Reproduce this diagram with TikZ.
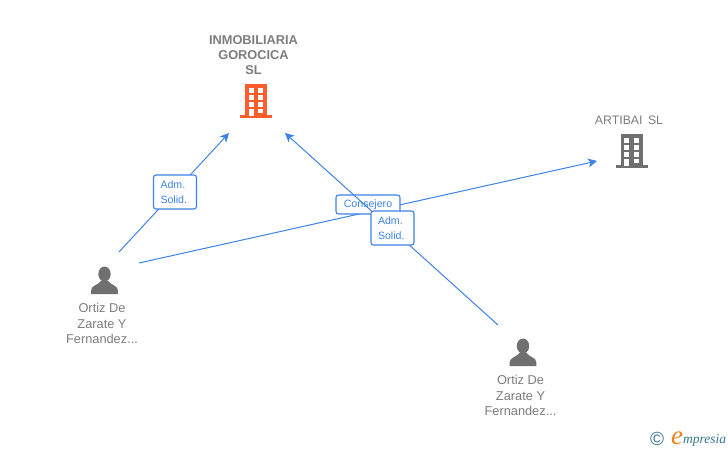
\documentclass[tikz,border=0pt]{standalone}
\usepackage{fontspec}
\setmainfont{Liberation Sans}
\newfontfamily\logofont{Liberation Serif}
\usetikzlibrary{arrows.meta}
\definecolor{linkblue}{RGB}{62,130,229}
\definecolor{labelgray}{RGB}{125,125,125}
\definecolor{icongray}{RGB}{112,112,112}
\definecolor{rorange}{RGB}{255,92,46}
\definecolor{logoteal}{RGB}{52,118,140}
\definecolor{logoorange}{RGB}{240,130,30}
\tikzset{
    link/.style={draw=linkblue, line width=1pt, -{Stealth[length=9pt,width=9pt,inset=2.5pt]}},
    rolebox/.style={draw=linkblue, line width=1.1pt, fill=white, rounded corners=2.5pt, text=linkblue,
        font=\fontsize{10.6}{15.5}\selectfont, align=left, inner sep=0pt},
    caption/.style={text=labelgray, align=center, inner sep=0pt, font=\fontsize{12.8}{15.2}\selectfont},
    building/.pic={
        \fill[pic actions] (-11,0) rectangle (11,31);
        \fill[pic actions] (-16,31) rectangle (16,34);
        \foreach \row in {4,11,18} {
            \fill[white] (-7.2,\row) rectangle (-2.4,\row+4.6);
            \fill[white] (2.2,\row) rectangle (7,\row+4.6);
        }
        \fill[white] (-7.2,24.5) rectangle (-2.4,32);
        \fill[white] (2.2,24.5) rectangle (7,29);
    },
    person/.pic={
        \fill[pic actions] (0,7.5) ellipse (6.2 and 7.5);
        \fill[pic actions] (-13.3,27.5) -- (-13.3,23.5) .. controls (-13.3,19) and (-6,18.5) .. (-3,14)
            -- (3,14) .. controls (6,18.5) and (13.3,19) .. (13.3,23.5) -- (13.3,27.5) -- cycle;
    }
}
\begin{document}
\begin{tikzpicture}[x=1pt,y=-1pt]
    \useasboundingbox (0,0) rectangle (728,450);

    % companies
    \pic[fill=rorange] at (256,84) {building};
    \pic[fill=icongray] at (631.5,134) {building};
    \node[caption, font=\fontsize{12.8}{15.2}\selectfont\bfseries] (inmobiliaria) at (253.5,55) {INMOBILIARIA\\GOROCICA\\SL};
    \node[caption, font=\fontsize{12.3}{15.2}\selectfont] (artibai) at (629,120) {ARTIBAI\hspace{2pt} SL};

    % people
    \pic[fill=icongray] at (104.5,266.5) {person};
    \pic[fill=icongray] at (523,338.5) {person};
    \node[caption] (ortizleft) at (102,323.5) {Ortiz De\\Zarate Y\\Fernandez...};
    \node[caption] (ortizright) at (520.5,395.5) {Ortiz De\\Zarate Y\\Fernandez...};

    % link ends
    \coordinate (leftadmstart) at (119,252);
    \coordinate (leftadmend) at (229,133);
    \coordinate (consejerostart) at (139,263);
    \coordinate (consejeroend) at (597,161);
    \coordinate (rightadmstart) at (498,325);
    \coordinate (rightadmend) at (285,133);

    \draw[link] (leftadmstart) -- (leftadmend);
    \node[rolebox, text width=29pt, minimum height=34pt, inner xsep=7pt] (leftadm) at (175,192) {Adm.\\Solid.};

    \draw[link] (consejerostart) -- (consejeroend);
    \node[rolebox, minimum width=64pt, minimum height=19pt] (consejero) at (368,204.5) {Consejero};

    \draw[link] (rightadmstart) -- (rightadmend);
    \node[rolebox, text width=29pt, minimum height=34pt, inner xsep=7pt] (rightadm) at (392.5,228) {Adm.\\Solid.};

    % logo
    \node[text=logoteal, inner sep=0pt, font=\fontsize{19}{19}\selectfont] (copyright) at (657,439) {©};
    \node[text=logoorange, inner sep=0pt, font=\logofont\itshape\fontsize{27}{27}\selectfont] (logoe) at (677,438.5) {e};
    \node[text=logoteal, inner sep=0pt, anchor=base west, font=\logofont\itshape\fontsize{13.5}{15}\selectfont] (logotext) at (683,443) {mpresia};
\end{tikzpicture}
\end{document}
